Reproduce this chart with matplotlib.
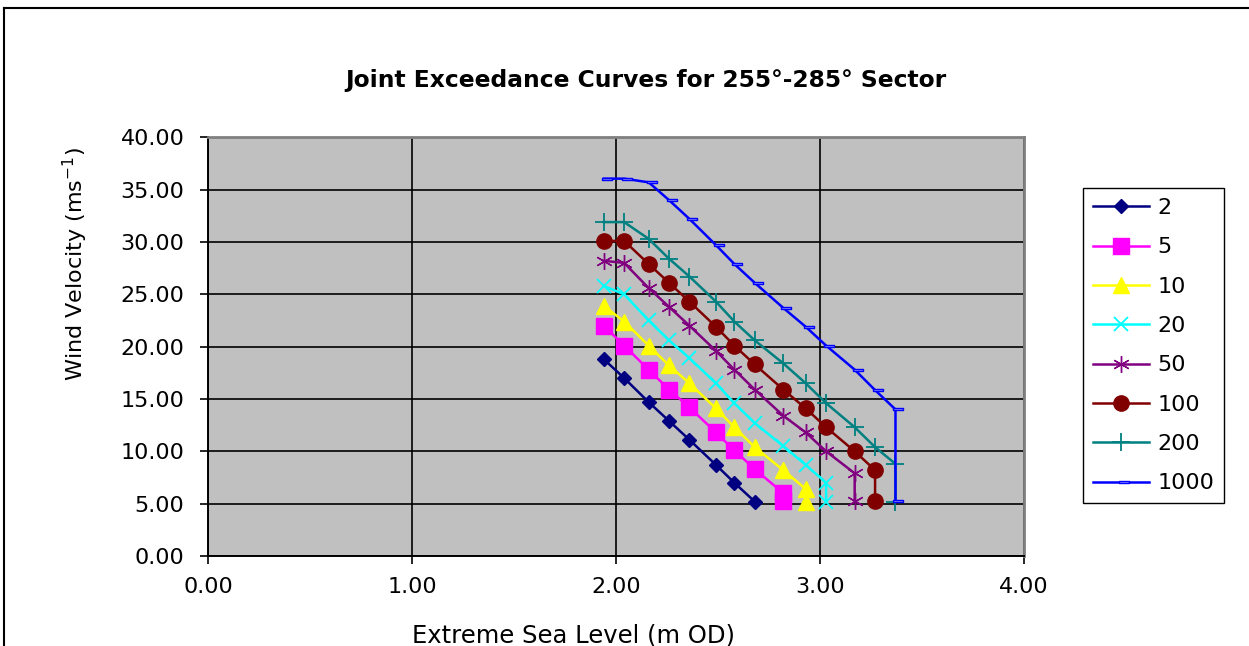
import matplotlib
matplotlib.use("Agg")
import matplotlib.pyplot as plt
from matplotlib.lines import Line2D
from matplotlib.path import Path

plt.rcParams['font.family'] = ['DejaVu Sans']

# return period curves: sea level (m OD) against wind velocity (m/s)
x_2 = [1.94, 2.04, 2.16, 2.26, 2.36, 2.49, 2.58, 2.68]
y_2 = [18.8, 17.0, 14.7, 12.9, 11.1, 8.7, 7.0, 5.2]

x_5 = [1.94, 2.04, 2.16, 2.26, 2.36, 2.49, 2.58, 2.68, 2.82, 2.82]
y_5 = [22.0, 20.1, 17.8, 15.9, 14.2, 11.8, 10.1, 8.3, 6.0, 5.3]

x_10 = [1.94, 2.04, 2.16, 2.26, 2.36, 2.49, 2.58, 2.68, 2.82, 2.93, 2.93]
y_10 = [23.9, 22.4, 20.1, 18.2, 16.5, 14.1, 12.3, 10.4, 8.2, 6.4, 5.2]

x_20 = [1.94, 2.04, 2.16, 2.26, 2.36, 2.49, 2.58, 2.68, 2.82, 2.93, 3.03, 3.03]
y_20 = [25.8, 25.0, 22.5, 20.6, 18.9, 16.5, 14.6, 12.7, 10.5, 8.7, 7.0, 5.2]

x_50 = [1.94, 2.04, 2.16, 2.26, 2.36, 2.49, 2.58, 2.68, 2.82, 2.93, 3.03, 3.17, 3.17]
y_50 = [28.2, 28.0, 25.6, 23.8, 22.0, 19.6, 17.8, 15.9, 13.4, 11.8, 10.0, 7.9, 5.3]

x_100 = [1.94, 2.04, 2.16, 2.26, 2.36, 2.49, 2.58, 2.68, 2.82, 2.93, 3.03, 3.17, 3.27, 3.27]
y_100 = [30.1, 30.1, 27.9, 26.1, 24.3, 21.9, 20.1, 18.3, 15.9, 14.1, 12.3, 10.0, 8.2, 5.3]

x_200 = [1.94, 2.04, 2.16, 2.26, 2.36, 2.49, 2.58, 2.68, 2.82, 2.93, 3.03, 3.17, 3.27, 3.37, 3.37]
y_200 = [31.9, 31.9, 30.3, 28.4, 26.7, 24.3, 22.4, 20.6, 18.4, 16.5, 14.6, 12.3, 10.4, 8.8, 5.2]

x_1000 = [1.94, 2.04, 2.16, 2.26, 2.36, 2.49, 2.58, 2.68, 2.82, 2.93, 3.03, 3.17, 3.27, 3.37, 3.37]
y_1000 = [36.05, 36.05, 35.7, 34.0, 32.2, 29.7, 27.9, 26.1, 23.7, 21.9, 20.1, 17.8, 15.85, 14.0, 5.25]

labels = ['2', '5', '10', '20', '50', '100', '200', '1000']
x_ticks = [0.0, 1.0, 2.0, 3.0, 4.0]
y_ticks = [0, 5, 10, 15, 20, 25, 30, 35, 40]

# excel style dash marker, sits a bit to the right of the point
dash = Path([(-0.3, -0.15), (1.0, -0.15), (1.0, 0.15), (-0.3, 0.15), (-0.3, -0.15)],
            [Path.MOVETO, Path.LINETO, Path.LINETO, Path.LINETO, Path.CLOSEPOLY])

W, H = 1249, 646
fig = plt.figure(figsize=(W / 100, H / 100), dpi=100)
ax = fig.add_axes([208 / W, 90 / H, 816 / W, 418.7 / H])
ax.set_facecolor('#C0C0C0')

lw = 1.8
ax.plot(x_2, y_2, color='#000080', lw=lw, marker='D', ms=7, label=labels[0])
ax.plot(x_5, y_5, color='#FF00FF', lw=lw, marker='s', ms=11, label=labels[1])
ax.plot(x_10, y_10, color='#FFFF00', lw=lw, marker='^', ms=11, label=labels[2])
ax.plot(x_20, y_20, color='#00FFFF', lw=lw, marker='x', ms=10, mew=1.3, label=labels[3])
ax.plot(x_50, y_50, color='#800080', lw=lw, marker=(6, 2, 0), ms=12, mew=1.0, label=labels[4])
ax.plot(x_100, y_100, color='#800000', lw=lw, marker='o', ms=11, label=labels[5])
ax.plot(x_200, y_200, color='#008080', lw=lw, marker='+', ms=13, mew=1.3, label=labels[6])
ax.plot(x_1000, y_1000, color='#0000FF', lw=lw, marker=dash, ms=12, mew=1.0,
        mfc='#A0A0FF', label=labels[7])

ax.set_xlim(0, 4)
ax.set_ylim(0, 40)
ax.set_xticks(x_ticks)
ax.set_yticks(y_ticks)
ax.set_xticklabels(['%.2f' % v for v in x_ticks])
ax.set_yticklabels(['%.2f' % v for v in y_ticks])
ax.grid(True, color='black', lw=1.2)
ax.set_axisbelow(True)
ax.tick_params(direction='out', length=6, width=1.2, labelsize=16, color='black')
ax.tick_params(axis='y', pad=11)
ax.tick_params(axis='x', pad=9)
for s in ['left', 'bottom']:
    ax.spines[s].set_color('black')
    ax.spines[s].set_linewidth(1.4)
for s in ['top', 'right']:
    ax.spines[s].set_color('#808080')
    ax.spines[s].set_linewidth(2.0)

fig.text(646 / W, 1 - 81 / H, 'Joint Exceedance Curves for 255°-285° Sector',
         ha='center', va='center', fontsize=16.8, fontweight='bold')
fig.text(75 / W, 1 - 264 / H, 'Wind Velocity (ms$^{-1}$)', rotation=90,
         ha='center', va='center', fontsize=16)
fig.text(573 / W, 1 - 635 / H, 'Extreme Sea Level (m OD)',
         ha='center', va='center', fontsize=17.5)

leg = ax.legend(loc='upper left', bbox_to_anchor=(1083 / W, 1 - 188 / H),
                bbox_transform=fig.transFigure, borderaxespad=0, fontsize=16,
                frameon=True, fancybox=False, framealpha=1, edgecolor='black',
                handlelength=2.5, handletextpad=0.4, labelspacing=0.87,
                borderpad=0.45)
leg.get_frame().set_linewidth(1.0)

# outer chart border
fig.add_artist(Line2D([4 / W, 1.0], [1 - 8 / H, 1 - 8 / H], color='black', lw=1.5,
                      transform=fig.transFigure))
fig.add_artist(Line2D([4 / W, 4 / W], [0.0, 1 - 8 / H], color='black', lw=1.5,
                      transform=fig.transFigure))

fig.savefig('out.png', dpi=100)
